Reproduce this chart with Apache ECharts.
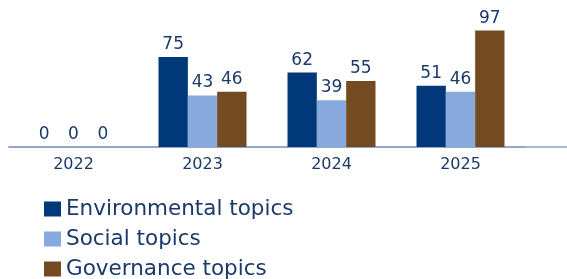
<!DOCTYPE html>
<html>
<head>
<meta charset="utf-8">
<script src="https://cdn.jsdelivr.net/npm/echarts@6/dist/echarts.min.js"></script>
<style>
  html, body { margin: 0; padding: 0; background: #fff; }
  #chart { width: 567px; height: 279px; }
</style>
</head>
<body>
<div id="chart"></div>
<script>
const years = ['2022', '2023', '2024', '2025']
const environmental = [0, 75, 62, 51]
const social = [0, 43, 39, 46]
const governance = [0, 46, 55, 97]

const textColor = '#1b3a6b'
const axisColor = '#8ba4c9'
const font = 'DejaVu Sans'

const chart = echarts.init(document.getElementById('chart'))

const label = {
  show: true,
  position: 'top',
  distance: 4,
  color: textColor,
  fontFamily: font,
  fontSize: 17
}

const option = {
  animation: false,
  legend: {
    orient: 'vertical',
    left: 44,
    top: 198,
    height: 90,
    padding: 0,
    itemWidth: 17,
    itemHeight: 15,
    itemGap: 8,
    icon: 'rect',
    textStyle: { color: textColor, fontFamily: font, fontSize: 21.5, lineHeight: 21 },
    data: ['Environmental topics', 'Social topics', 'Governance topics']
  },
  grid: [
    { left: 9, right: 42, top: 27, bottom: 132 },
    // only used to run the baseline across the full width
    { left: 9, right: 0, top: 27, bottom: 132 }
  ],
  xAxis: [
    {
      type: 'category',
      gridIndex: 0,
      data: years,
      axisLine: { lineStyle: { color: axisColor, width: 1.5 } },
      axisTick: { alignWithLabel: true, length: 4, lineStyle: { color: axisColor } },
      axisLabel: { color: textColor, fontFamily: font, fontSize: 16, margin: 10 }
    },
    {
      type: 'value',
      gridIndex: 1,
      axisLine: { show: true, lineStyle: { color: axisColor, width: 1.5 } },
      axisTick: { show: false },
      axisLabel: { show: false },
      splitLine: { show: false }
    }
  ],
  yAxis: [
    { type: 'value', gridIndex: 0, min: 0, max: 100, show: false, splitLine: { show: false } },
    { type: 'value', gridIndex: 1, show: false, splitLine: { show: false } }
  ],
  series: [
    {
      name: 'Environmental topics',
      type: 'bar',
      data: environmental,
      barGap: 0,
      barCategoryGap: '31.8%',
      itemStyle: { color: '#00387a' },
      label
    },
    {
      name: 'Social topics',
      type: 'bar',
      data: social,
      itemStyle: { color: '#87a9de' },
      label
    },
    {
      name: 'Governance topics',
      type: 'bar',
      data: governance,
      itemStyle: { color: '#744b21' },
      label
    }
  ]
}

chart.setOption(option)

window.addEventListener('resize', () => {
  chart?.resize()
})
</script>
</body>
</html>
